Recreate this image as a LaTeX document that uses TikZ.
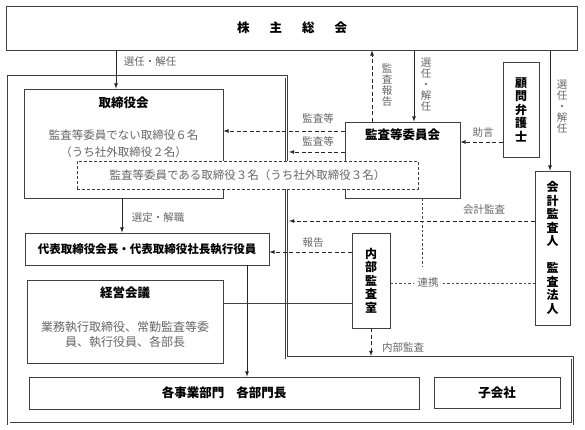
\documentclass[tikz,border=0pt]{standalone}
\usepackage{fontspec}
\newfontfamily\jp{Noto Sans CJK JP}
\definecolor{linegray}{HTML}{404040}
\definecolor{textgray}{HTML}{666666}

\begin{document}
\begin{tikzpicture}[x=1pt, y=-1pt,
      every node/.style = {font=\jp\fontsize{10.5}{12}\selectfont, inner sep=0pt, align=center},
      box/.style        = {draw=linegray, fill=white, line width=0.8pt},
      title/.style      = {font=\jp\bfseries\fontsize{12.5}{14}\selectfont},
      vtitle/.style     = {font=\jp\bfseries\fontsize{12}{13.5}\selectfont},
      desc/.style       = {text=textgray, font=\jp\fontsize{11.5}{17}\selectfont},
      lbl/.style        = {text=textgray},
      vlbl/.style       = {text=textgray, font=\jp\fontsize{10.5}{11}\selectfont},
      frame/.style      = {draw=linegray, double=white, double distance=1.6pt, line width=0.7pt},
      arr/.style        = {draw=black!85, line width=0.8pt, -latex},
      dasharr/.style    = {arr, dash pattern=on 4pt off 2.5pt},
      link/.style       = {draw=black!70, line width=0.6pt, dash pattern=on 2.5pt off 2pt},
      conn/.style       = {draw=linegray, line width=0.8pt}
    ]
    \useasboundingbox (0,0) rectangle (585,430);

    % company frame
    \draw[frame] (8.7,77) -- (286.5,77) -- (286.5,357.7) -- (572.5,357.7) -- (572.5,423.7) -- (8.7,423.7) -- cycle;
    \coordinate (frameE1) at (289,152);
    \coordinate (frameE2) at (289,221);
    \coordinate (frameS)  at (371,356);

    \node (soukai)  [box, title, minimum width=571, minimum height=44] at (292,28)    {株\hspace{20pt}主\hspace{20pt}総\hspace{20pt}会};

    \node (tori)    [box, minimum width=199, minimum height=109]        at (123.5,143.5) {};
    \node (toriT)   [title]                                             at (123.5,103)   {取締役会};
    \node (toriD)   [desc]                                              at (123.5,143.5) {監査等委員でない取締役６名\\（うち社外取締役２名）};

    \node (iinkai)  [box, minimum width=115, minimum height=76]         at (402.5,160)   {};
    \node (iinkaiT) [title]                                             at (402.5,135)   {監査等委員会};

    % overlapping dashed box
    \node (kansatori) [box, dash pattern=on 3pt off 2pt, desc, minimum width=341, minimum height=28] at (247.5,175) {監査等委員である取締役３名（うち社外取締役３名）};

    \node (komon)   [box, vtitle, minimum width=36, minimum height=95]  at (521,109.5)   {顧\\問\\弁\\護\\士};
    \node (kaikei)  [box, vtitle, minimum width=35, minimum height=154] at (552.5,248)    {会\\計\\監\\査\\人\\[13.5pt]監\\査\\法\\人};
    \node (naibu)   [box, vtitle, minimum width=38, minimum height=95]  at (371,280.5)   {内\\部\\監\\査\\室};

    \node (daihyo)  [box, font=\jp\bfseries\fontsize{11.5}{13}\selectfont, minimum width=244, minimum height=32] at (147,249) {代表取締役会長・代表取締役社長執行役員};

    \node (keiei)   [box, minimum width=196, minimum height=83]         at (125,321.5)   {};
    \node (keieiT)  [title]                                             at (125,293)     {経営会議};
    \node (keieiD)  [desc, font=\jp\fontsize{12}{15}\selectfont]        at (125,334.5)   {業務執行取締役、常勤監査等委\\員、執行役員、各部長};

    \node (jigyo)   [box, title, minimum width=390, minimum height=32]  at (224,393)     {各事業部門\hspace{12pt}各部門長};
    \node (kogaisha)[box, title, minimum width=126, minimum height=31]  at (497,392.5)   {子会社};

    % labels
    \node (senninA)  [lbl]  at (150,62)  {選任・解任};
    \node (sentei)   [lbl]  at (158,218) {選定・解職};
    \node (hokokuA)  [vlbl] at (387,85)  {監\\査\\報\\告};
    \node (senninB)  [vlbl] at (426,85)  {選\\任\\・\\解\\任};
    \node (senninC)  [vlbl] at (562,107) {選\\任\\・\\解\\任};
    \node (kansaA)   [lbl]  at (318,118) {監査等};
    \node (kansaB)   [lbl]  at (318,141) {監査等};
    \node (jogen)    [lbl]  at (483,133) {助言};
    \node (kaikeiL)  [lbl]  at (484,210) {会計監査};
    \node (hokokuB)  [lbl]  at (313,243) {報告};
    \node (renkei)   [lbl, inner xsep=4pt] at (428,283) {連携};
    \node (naibuL)   [lbl]  at (403,348) {内部監査};
    \coordinate (renkeiN) at (422,267);

    \draw[arr]     (116,0 |- soukai.south)  to (116,0 |- tori.north);
    \draw[arr]     (122,0 |- tori.south)    to (122,0 |- daihyo.north);
    \draw[arr]     (247,0 |- daihyo.south)  to (247,0 |- jigyo.north);
    \draw[dasharr] (372,0 |- iinkai.north)  to (372,0 |- soukai.south);
    \draw[arr]     (414,0 |- soukai.south)  to (414,0 |- iinkai.north);
    \draw[arr]     (550,0 |- soukai.south)  to (550,0 |- kaikei.north);
    \draw[dasharr] (iinkai.west |- 0,131)   to (tori.east |- 0,131);
    \draw[dasharr] (iinkai.west |- frameE1) to (frameE1);
    \draw[dasharr] (komon.west |- 0,142)    to (iinkai.east |- 0,142);
    \draw[dasharr] (kaikei.west |- frameE2) to (frameE2);
    \draw[dasharr] (naibu.west |- 0,252)    to (daihyo.east |- 0,252);
    \draw[conn]    (keiei.east |- 0,303)    to (naibu.west |- 0,303);
    \draw[dasharr] (naibu.south)            to (naibu.south |- frameS);

    \draw[link] (422,0 |- iinkai.south) to (renkeiN);
    \draw[link] (naibu.east |- renkei)  to (renkei.west);
    \draw[link] (renkei.east)           to (kaikei.west |- renkei);

  \end{tikzpicture}
\end{document}
